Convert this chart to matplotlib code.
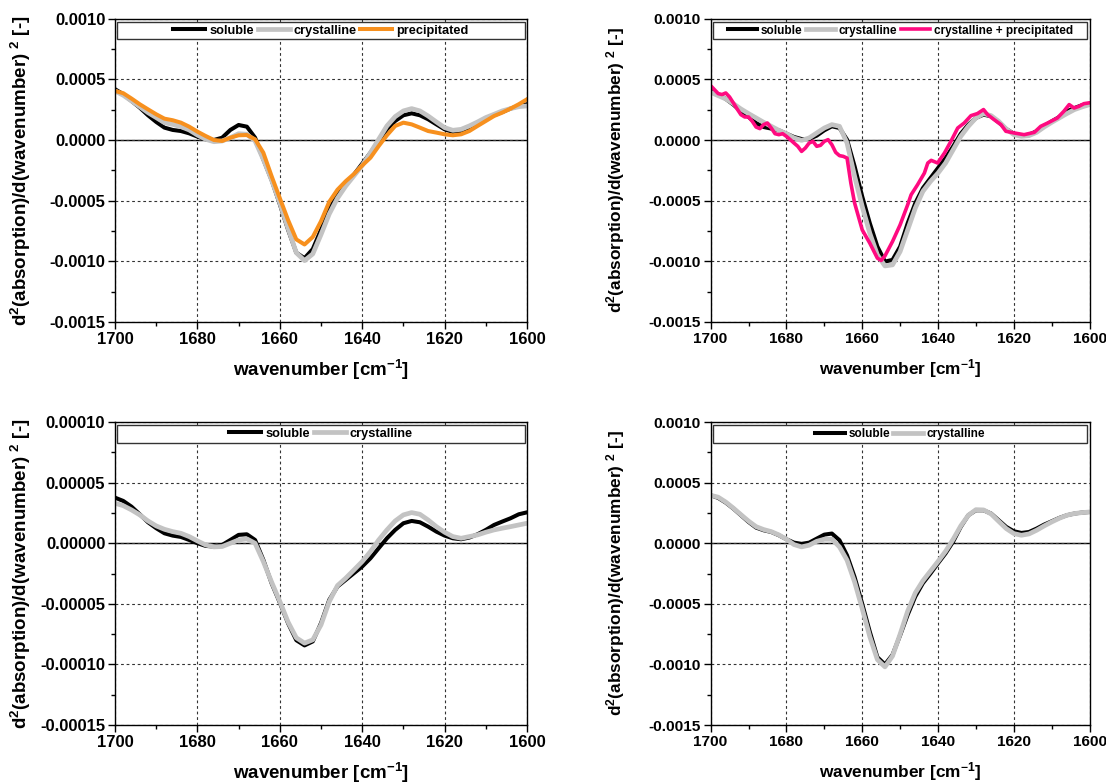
import matplotlib
matplotlib.use('Agg')
import matplotlib.pyplot as plt
from matplotlib.patches import Rectangle
from matplotlib.ticker import MultipleLocator, FormatStrFormatter

plt.rcParams['font.family'] = ['Liberation Sans', 'DejaVu Sans']
plt.rcParams['font.weight'] = 'bold'
plt.rcParams['axes.unicode_minus'] = False
plt.rcParams['mathtext.fontset'] = 'custom'
plt.rcParams['mathtext.rm'] = 'Liberation Sans:bold'
plt.rcParams['mathtext.it'] = 'Liberation Sans:bold'
plt.rcParams['mathtext.bf'] = 'Liberation Sans:bold'

# wavenumbers the curves were read at (cm-1)
wn = list(range(1700, 1599, -2))

# top left, values in 1e-4
sol_a = [4.19, 3.77, 3.22, 2.67, 2.04, 1.49, 1.02, 0.83, 0.74, 0.55, 0.28, 0.06, 0.00, 0.19, 0.83, 1.24, 1.10, 0.19,
         -1.60, -3.30, -5.30, -7.40, -9.30, -9.75, -9.00, -7.40, -5.70, -4.50, -3.70, -2.85, -1.95, -1.05, -0.08, 0.88,
         1.57, 2.04, 2.20, 2.04, 1.71, 1.29, 0.88, 0.66, 0.74, 1.02, 1.38, 1.71, 2.04, 2.31, 2.59, 2.81, 2.95]
cry_a = [4.05, 3.69, 3.22, 2.75, 2.26, 1.85, 1.43, 1.29, 1.10, 0.83, 0.41, 0.06, -0.14, -0.08, 0.19, 0.52, 0.47, -0.08,
         -1.60, -3.30, -5.20, -7.30, -9.30, -9.95, -9.40, -7.80, -6.10, -4.80, -3.80, -2.95, -2.10, -1.05, 0.06, 1.16,
         1.93, 2.40, 2.59, 2.40, 1.98, 1.49, 1.02, 0.80, 0.88, 1.16, 1.49, 1.85, 2.12, 2.40, 2.59, 2.75, 2.81]
pre_a = [4.05, 3.86, 3.42, 2.95, 2.53, 2.12, 1.76, 1.63, 1.43, 1.10, 0.69, 0.33, 0.00, -0.08, 0.19, 0.39, 0.41, 0.06,
         -1.05, -2.98, -4.80, -6.60, -8.20, -8.62, -8.00, -6.70, -5.10, -4.10, -3.40, -2.80, -2.10, -1.46, -0.50, 0.39,
         1.16, 1.43, 1.29, 1.02, 0.74, 0.61, 0.47, 0.39, 0.47, 0.74, 1.16, 1.57, 1.98, 2.26, 2.59, 2.95, 3.36]

# top right, values in 1e-4
sol_b = [4.10, 3.75, 3.39, 2.92, 2.37, 1.90, 1.40, 1.07, 0.94, 0.80, 0.52, 0.25, 0.08, 0.08, 0.36, 0.80, 1.13, 0.99,
         0.03, -2.18, -4.66, -6.86, -8.79, -10.03, -9.89, -8.79, -6.86, -5.21, -3.97, -3.14, -2.31, -1.49, -0.52, 0.52,
         1.27, 1.82, 2.09, 1.96, 1.46, 0.91, 0.52, 0.36, 0.44, 0.72, 1.13, 1.54, 1.90, 2.37, 2.64, 2.87, 3.00]
cry_b = [3.94, 3.66, 3.39, 3.00, 2.56, 2.18, 1.82, 1.46, 1.13, 0.80, 0.52, 0.17, -0.03, 0.17, 0.58, 0.99, 1.27, 1.13,
         -0.25, -3.00, -5.48, -7.69, -9.48, -10.39, -10.30, -9.20, -7.41, -5.62, -4.24, -3.42, -2.73, -1.90, -0.80, 0.30,
         1.13, 1.82, 2.18, 2.01, 1.54, 0.91, 0.44, 0.30, 0.36, 0.63, 1.07, 1.46, 1.82, 2.18, 2.51, 2.73, 2.92]
mix_wn = [1700, 1699, 1698, 1697, 1696, 1695, 1694, 1693, 1692, 1691, 1690, 1689, 1688, 1687, 1686, 1685, 1684, 1683,
          1682, 1681, 1680, 1679, 1678, 1677, 1676, 1675, 1674, 1673, 1672, 1671, 1670, 1669, 1668, 1667, 1666, 1665,
          1664, 1663, 1662, 1661, 1660, 1658, 1656, 1655, 1654, 1652, 1650, 1648, 1647.1, 1645.4, 1643.6, 1642.7,
          1641.8, 1640.1, 1638.3, 1636.6, 1634.8, 1633.1, 1631.3, 1629.6, 1628.0, 1626.9, 1625.2, 1623.4, 1622.1,
          1619.9, 1617.3, 1614.6, 1612.9, 1611.1, 1608.5, 1606.8, 1605.4, 1604.1, 1602.8, 1601.5, 1600.2]
mix_b = [4.49, 4.16, 3.83, 3.75, 3.88, 3.55, 3.06, 2.56, 2.09, 1.90, 1.90, 1.54, 1.07, 0.94, 1.27, 1.40, 0.99, 0.52,
         0.44, 0.52, 0.30, 0.03, -0.25, -0.52, -0.94, -0.66, -0.25, -0.11, -0.52, -0.44, -0.11, 0.03, -0.39, -1.02,
         -1.29, -1.35, -1.49, -3.55, -5.21, -6.31, -7.41, -8.51, -9.75, -9.94, -9.56, -8.37, -7.00, -5.34, -4.52,
         -3.69, -2.73, -1.90, -1.68, -1.90, -1.07, -0.11, 0.99, 1.40, 2.01, 2.18, 2.51, 2.09, 1.68, 1.27, 0.72, 0.58,
         0.44, 0.63, 1.13, 1.40, 1.82, 2.37, 2.92, 2.64, 2.78, 3.00, 3.06]

# bottom left, values in 1e-5
sol_c = [3.76, 3.49, 3.02, 2.39, 1.73, 1.24, 0.82, 0.63, 0.52, 0.27, 0.00, -0.22, -0.27, -0.14, 0.27, 0.69, 0.74, 0.27,
         -1.37, -3.30, -4.90, -6.60, -8.00, -8.43, -8.10, -6.59, -4.67, -3.57, -3.02, -2.47, -1.92, -1.24, -0.41, 0.41,
         1.10, 1.65, 1.84, 1.73, 1.37, 0.96, 0.63, 0.41, 0.33, 0.47, 0.74, 1.10, 1.51, 1.79, 2.06, 2.39, 2.55]
cry_c = [3.30, 3.10, 2.75, 2.34, 1.84, 1.43, 1.15, 0.96, 0.82, 0.55, 0.19, -0.14, -0.30, -0.27, 0.00, 0.27, 0.36, 0.00,
         -1.51, -3.20, -4.80, -6.50, -7.80, -8.24, -7.97, -6.73, -4.81, -3.49, -2.88, -2.20, -1.51, -0.69, 0.27, 1.10,
         1.84, 2.34, 2.53, 2.39, 1.92, 1.37, 0.91, 0.55, 0.41, 0.55, 0.69, 0.91, 1.10, 1.24, 1.37, 1.51, 1.65]

# bottom right, values in 1e-4
sol_d = [3.96, 3.74, 3.35, 2.86, 2.31, 1.76, 1.29, 1.07, 0.93, 0.66, 0.33, 0.05, -0.05, 0.05, 0.38, 0.71, 0.80, 0.25,
         -1.00, -2.80, -5.00, -7.30, -9.40, -10.0, -9.20, -7.60, -5.90, -4.40, -3.30, -2.50, -1.65, -0.83, 0.14, 1.35,
         2.31, 2.72, 2.72, 2.45, 1.90, 1.35, 0.99, 0.85, 0.93, 1.21, 1.54, 1.81, 2.09, 2.31, 2.45, 2.53, 2.58]
cry_d = [3.96, 3.80, 3.40, 2.90, 2.36, 1.83, 1.37, 1.13, 0.96, 0.69, 0.33, -0.11, -0.30, -0.16, 0.16, 0.33, 0.33, -0.30,
         -1.40, -3.20, -5.40, -7.70, -9.60, -10.2, -9.30, -7.50, -5.60, -4.10, -3.10, -2.30, -1.50, -0.66, 0.33, 1.43,
         2.31, 2.77, 2.75, 2.42, 1.81, 1.21, 0.80, 0.66, 0.77, 1.07, 1.43, 1.76, 2.06, 2.31, 2.45, 2.53, 2.58]

BLACK = 'black'
GREY = '#c3c3c3'
ORANGE = '#f7901e'
PINK = '#ff0a80'

ylab = r'd$^2$(absorption)/d(wavenumber) $^2$ [-]'
xlab = r'wavenumber [cm$^{-1}$]'


def setup(ax, ymin, ymax, ystep, fmt, labx, sc):
    # sc: the right-hand panels are drawn a bit smaller in the original
    ax.set_xlim(1700, 1600)
    ax.set_ylim(ymin, ymax)
    ax.xaxis.set_major_locator(MultipleLocator(20))
    ax.xaxis.set_minor_locator(MultipleLocator(10))
    ax.yaxis.set_major_locator(MultipleLocator(ystep))
    ax.yaxis.set_minor_locator(MultipleLocator(ystep / 2))
    ax.yaxis.set_major_formatter(FormatStrFormatter(fmt))
    ax.tick_params(which='major', direction='out', length=5, width=1, labelsize=12 * sc, pad=2)
    ax.tick_params(which='minor', direction='out', length=3, width=1)
    ax.grid(True, which='major', color='#333333', lw=0.8, ls=(0, (2.5, 2.5)))
    ax.axhline(0, color='black', lw=1, zorder=1.5)
    for s in ax.spines.values():
        s.set_linewidth(1)
    ax.set_xlabel(xlab, fontsize=13.5 * sc, fontweight='bold', labelpad=8)
    ax.set_ylabel(ylab, fontsize=13.5 * sc, fontweight='bold')
    ax.yaxis.set_label_coords(labx, 0.5)
    ax.add_patch(Rectangle((0.006, 0.932), 0.988, 0.058, transform=ax.transAxes,
                           facecolor='white', edgecolor='#333333', lw=1, zorder=3))


def legend(ax, n, sc):
    leg = ax.legend(loc='center', bbox_to_anchor=(0.5, 0.961), ncol=n, frameon=False,
                    fontsize=9.2 * sc, handlelength=2.5, handletextpad=0.3, columnspacing=0.3,
                    borderpad=0, borderaxespad=0)
    leg.set_zorder(4)


fig = plt.figure(figsize=(11.06, 7.83), dpi=100)
ax1 = fig.add_axes([0.104, 0.589, 0.3725, 0.387])
ax2 = fig.add_axes([0.6425, 0.589, 0.3427, 0.387])
ax3 = fig.add_axes([0.104, 0.074, 0.3725, 0.387])
ax4 = fig.add_axes([0.6425, 0.074, 0.3427, 0.387])

setup(ax1, -0.0015, 0.0010, 0.0005, '%.4f', -0.199, 1.0)
ax1.plot(wn, [v * 1e-4 for v in sol_a], color=BLACK, lw=2.9, label='soluble')
ax1.plot(wn, [v * 1e-4 for v in cry_a], color=GREY, lw=3.4, label='crystalline')
ax1.plot(wn, [v * 1e-4 for v in pre_a], color=ORANGE, lw=2.9, label='precipitated')
legend(ax1, 3, 1.0)

setup(ax2, -0.0015, 0.0010, 0.0005, '%.4f', -0.221, 0.92)
ax2.plot(wn, [v * 1e-4 for v in sol_b], color=BLACK, lw=2.9, label='soluble')
ax2.plot(wn, [v * 1e-4 for v in cry_b], color=GREY, lw=3.4, label='crystalline')
ax2.plot(mix_wn, [v * 1e-4 for v in mix_b], color=PINK, lw=2.6, label='crystalline + precipitated')
legend(ax2, 3, 0.92)

setup(ax3, -0.00015, 0.00010, 0.00005, '%.5f', -0.199, 1.0)
ax3.plot(wn, [v * 1e-5 for v in sol_c], color=BLACK, lw=2.9, label='soluble')
ax3.plot(wn, [v * 1e-5 for v in cry_c], color=GREY, lw=3.4, label='crystalline')
legend(ax3, 2, 1.0)

setup(ax4, -0.0015, 0.0010, 0.0005, '%.4f', -0.221, 0.92)
ax4.plot(wn, [v * 1e-4 for v in sol_d], color=BLACK, lw=2.9, label='soluble')
ax4.plot(wn, [v * 1e-4 for v in cry_d], color=GREY, lw=3.4, label='crystalline')
legend(ax4, 2, 0.92)

plt.savefig('out.png', dpi=100)
